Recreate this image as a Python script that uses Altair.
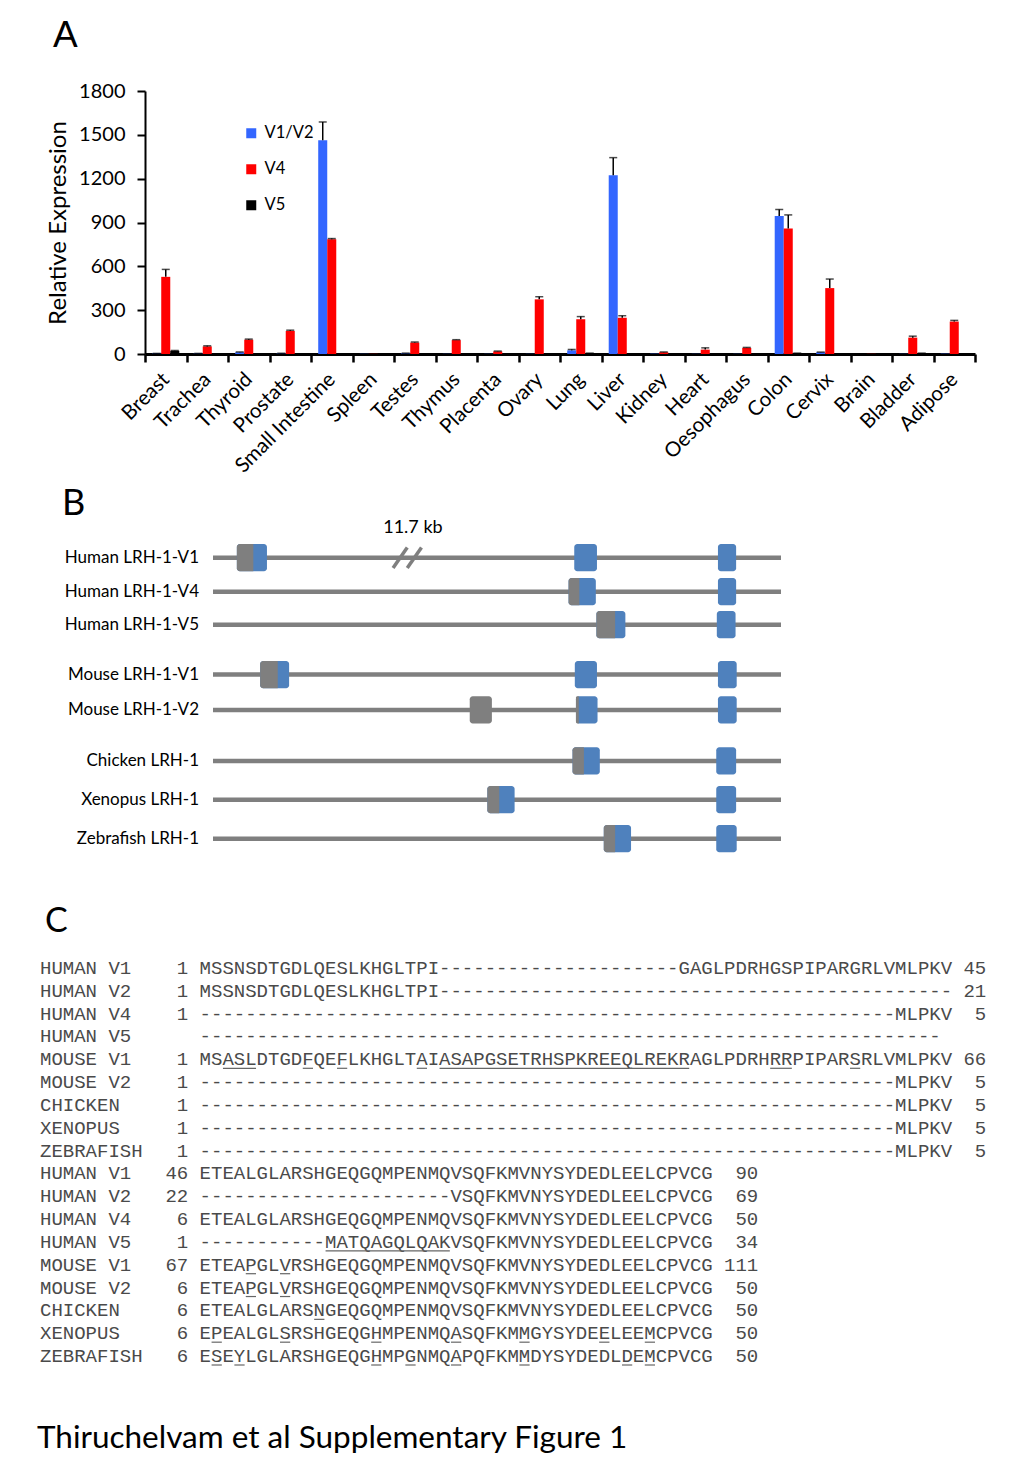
import altair as alt
import pandas as pd

# ---------------- Panel A : expression data ----------------
tissues = ["Breast", "Trachea", "Thyroid", "Prostate", "Small Intestine", "Spleen",
           "Testes", "Thymus", "Placenta", "Ovary", "Lung", "Liver", "Kidney", "Heart",
           "Oesophagus", "Colon", "Cervix", "Brain", "Bladder", "Adipose"]
series_names = ["V1/V2", "V4", "V5"]
series_colors = ["#3366FF", "#FF0000", "#000000"]

v1v2 = [3, 3, 12, 4, 1463, 1, 5, 1, 1, 1, 25, 1224, 2, 1, 1, 945, 12, 0, 1, 2]
v1v2_err = [4, 4, 14, 5, 1588, 1, 6, 1, 1, 1, 31, 1344, 2, 1, 1, 989, 13, 0, 1, 2]
v4 = [528, 52, 98, 158, 786, 1, 78, 95, 18, 374, 238, 248, 12, 30, 42, 859, 451, 1, 112, 222]
v4_err = [579, 56, 102, 163, 790, 1, 82, 98, 20, 392, 256, 262, 14, 42, 45, 952, 513, 1, 122, 230]
v5 = [22, 2, 3, 3, 1, 1, 2, 1, 1, 1, 5, 2, 1, 1, 1, 5, 1, 0, 5, 3]
v5_err = [24, 2, 3, 3, 1, 1, 2, 1, 1, 1, 6, 2, 1, 1, 1, 6, 1, 0, 6, 3]
y_ticks = [0, 300, 600, 900, 1200, 1500, 1800]

# ---------------- Panel B : gene structures ----------------
b_labels = ["Human LRH-1-V1", "Human LRH-1-V4", "Human LRH-1-V5", "Mouse LRH-1-V1",
            "Mouse LRH-1-V2", "Chicken LRH-1", "Xenopus LRH-1", "Zebrafish LRH-1"]
b_track = [0, 1, 1.97, 3.44, 4.48, 5.98, 7.12, 8.27]
# exon: transcript index, start, end of non-coding (grey) part, end
ex_row = [0, 0, 0, 1, 1, 2, 2, 3, 3, 3, 4, 4, 4, 5, 5, 6, 6, 7, 7]
ex_start = [4.2, 63.6, 88.9, 62.6, 88.9, 67.5, 88.7, 8.3, 63.7, 88.9, 45.2, 63.9, 88.9,
            63.3, 88.6, 48.3, 88.6, 68.8, 88.6]
ex_split = [7.1, 63.6, 88.9, 64.5, 88.9, 70.8, 88.7, 11.4, 63.7, 88.9, 49.1, 64.4, 88.9,
            65.3, 88.6, 50.4, 88.6, 70.8, 88.6]
ex_end = [9.5, 67.6, 92.1, 67.4, 92.1, 72.6, 92.0, 13.4, 67.6, 92.2, 49.1, 67.7, 92.2,
          68.1, 92.1, 53.1, 92.1, 73.6, 92.2]
break_x = [31.7, 34.2]       # "//" intron break on Human V1
kb_label = "11.7 kb"
kb_pos = [35.2, -0.87]

# ---------------- Panel C : alignment ----------------
c_names = ["HUMAN V1", "HUMAN V2", "HUMAN V4", "HUMAN V5", "MOUSE V1", "MOUSE V2",
           "CHICKEN", "XENOPUS", "ZEBRAFISH"]
c_start1 = ["1", "1", "1", "", "1", "1", "1", "1", "1"]
c_seq1 = [
    "MSSNSDTGDLQESLKHGLTPI" + "-" * 21 + "GAGLPDRHGSPIPARGRLVMLPKV",
    "MSSNSDTGDLQESLKHGLTPI" + "-" * 45,
    "-" * 61 + "MLPKV",
    "-" * 65,
    "MSASLDTGDFQEFLKHGLTAIASAPGSETRHSPKREEQLREKRAGLPDRHRRPIPARSRLVMLPKV",
    "-" * 61 + "MLPKV",
    "-" * 61 + "MLPKV",
    "-" * 61 + "MLPKV",
    "-" * 61 + "MLPKV",
]
c_end1 = ["45", "21", "5", "", "66", "5", "5", "5", "5"]
c_ul1 = [[], [], [], [], [(3, 5), (10, 10), (13, 13), (20, 20), (22, 43), (51, 52), (58, 58)],
         [], [], [], []]
c_start2 = ["46", "22", "6", "1", "67", "6", "6", "6", "6"]
c_seq2 = [
    "ETEALGLARSHGEQGQMPENMQVSQFKMVNYSYDEDLEELCPVCG",
    "-" * 22 + "VSQFKMVNYSYDEDLEELCPVCG",
    "ETEALGLARSHGEQGQMPENMQVSQFKMVNYSYDEDLEELCPVCG",
    "-" * 11 + "MATQAGQLQAKVSQFKMVNYSYDEDLEELCPVCG",
    "ETEAPGLVRSHGEQGQMPENMQVSQFKMVNYSYDEDLEELCPVCG",
    "ETEAPGLVRSHGEQGQMPENMQVSQFKMVNYSYDEDLEELCPVCG",
    "ETEALGLARSNGEQGQMPENMQVSQFKMVNYSYDEDLEELCPVCG",
    "EPEALGLSRSHGEQGHMPENMQASQFKMMGYSYDEELEEMCPVCG",
    "ESEYLGLARSHGEQGHMPGNMQAPQFKMMDYSYDEDLDEMCPVCG",
]
c_end2 = ["90", "69", "50", "34", "111", "50", "50", "50", "50"]
c_ul2 = [[], [], [], [(12, 22)], [(5, 5), (8, 8)], [(5, 5), (8, 8)], [(11, 11)],
         [(2, 2), (8, 8), (16, 16), (23, 23), (29, 29), (36, 36), (40, 40)],
         [(2, 2), (4, 4), (16, 16), (19, 19), (23, 23), (29, 29), (38, 38), (40, 40)]]

footer = "Thiruchelvam et al Supplementary Figure 1"

# ================= build =================
W, H = 1008, 1463
SANS = "Lato"
MONO = "Liberation Mono"

# ---- Panel A
rowsA = []
for i, t in enumerate(tissues):
    for s, vals, errs in ((series_names[0], v1v2, v1v2_err),
                          (series_names[1], v4, v4_err),
                          (series_names[2], v5, v5_err)):
        rowsA.append(dict(tissue=t, series=s, value=vals[i], err=errs[i]))
dfA = pd.DataFrame(rowsA)
dfErr = dfA[dfA["err"] > dfA["value"]]

xA = alt.X("tissue:N", sort=tissues, title=None,
           scale=alt.Scale(domain=tissues, range=[137, 967], paddingInner=0, paddingOuter=0),
           axis=alt.Axis(orient="bottom", offset=-(H - 346), tickBand="extent",
                         labelAngle=-45, labelAlign="right", labelBaseline="middle",
                         labelFont=SANS, labelFontSize=20.5, labelColor="black", labelPadding=14,
                         labelLimit=400, tickSize=8, tickWidth=2.5, tickColor="black",
                         domainColor="black", domainWidth=3, grid=False))
xoA = alt.XOffset("series:N", sort=series_names,
                  scale=alt.Scale(domain=series_names, paddingInner=0, paddingOuter=0.8))
yscaleA = alt.Scale(domain=[0, 1800], range=[346, 83], nice=False, zero=True)
yaxisA = alt.Axis(orient="left", offset=-137, values=y_ticks, format="d",
                  title="Relative Expression",
                  titleFont=SANS, titleFontSize=24, titleFontWeight="normal", titleColor="black",
                  titlePadding=8, labelFont=SANS, labelFontSize=20, labelColor="black",
                  labelPadding=12, tickSize=8, tickWidth=2, tickColor="black",
                  domainColor="black", domainWidth=2, grid=False)

bars = alt.Chart(dfA).mark_bar().encode(
    x=xA, xOffset=xoA,
    y=alt.Y("value:Q", scale=yscaleA, axis=yaxisA),
    color=alt.Color("series:N", sort=series_names,
                    scale=alt.Scale(domain=series_names, range=series_colors),
                    legend=alt.Legend(orient="none", legendX=235, legendY=117, title=None,
                                      symbolType="square", symbolSize=100, symbolStrokeWidth=0,
                                      labelFont=SANS, labelFontSize=16.5, labelColor="black",
                                      rowPadding=19, labelOffset=5, padding=0)),
)
err_rule = alt.Chart(dfErr).mark_rule(color="black", strokeWidth=1.5).encode(
    x=xA, xOffset=xoA,
    y=alt.Y("value:Q", scale=yscaleA, axis=yaxisA), y2="err:Q")
err_cap = alt.Chart(dfErr).mark_tick(color="black", thickness=1.5, size=8,
                                     orient="horizontal").encode(
    x=xA, xOffset=xoA, y=alt.Y("err:Q", scale=yscaleA, axis=yaxisA))
panelA = alt.layer(bars, err_rule, err_cap)

# ---- Panel B
GREY = "#7F7F7F"
BLUE = "#4F81BD"
HALF = 0.4
dfLines = pd.DataFrame({"label": b_labels, "track": b_track})
dfLines["x0"] = 0.0
dfLines["x1"] = 100.0
ex_rows = []
for r, s, sp, e in zip(ex_row, ex_start, ex_split, ex_end):
    tr = b_track[r]
    ex_rows.append(dict(track=tr, start=s, split=sp, end=e, y0=tr - HALF, y1=tr + HALF,
                        kind="coding" if sp < e else "noncoding"))
dfEx = pd.DataFrame(ex_rows)
dfGreyPart = dfEx[(dfEx["split"] > dfEx["start"]) & (dfEx["split"] < dfEx["end"])]

xsB = alt.Scale(domain=[0, 100], range=[205, 773])
ysB = alt.Scale(domain=[0, 8.27], range=[549.7, 830.7])

lines = alt.Chart(dfLines).mark_rule(color=GREY, strokeWidth=4.5).encode(
    x=alt.X("x0:Q", scale=xsB, axis=None), x2="x1:Q",
    y=alt.Y("track:Q", scale=ysB, axis=None))
labelsB = alt.Chart(dfLines).mark_text(align="right", baseline="middle", dx=-14, font=SANS,
                                       fontSize=17, color="black").encode(
    x=alt.X("x0:Q", scale=xsB, axis=None), y=alt.Y("track:Q", scale=ysB, axis=None),
    text="label:N")
exons = alt.Chart(dfEx).mark_rect(cornerRadius=3).encode(
    x=alt.X("start:Q", scale=xsB, axis=None), x2="end:Q",
    y=alt.Y("y0:Q", scale=ysB, axis=None), y2="y1:Q",
    color=alt.Color("kind:N", scale=alt.Scale(domain=["coding", "noncoding"],
                                              range=[BLUE, GREY]), legend=None))
greyPart = alt.Chart(dfGreyPart).mark_rect(cornerRadiusTopLeft=3, cornerRadiusBottomLeft=3,
                                           color=GREY).encode(
    x=alt.X("start:Q", scale=xsB, axis=None), x2="split:Q",
    y=alt.Y("y0:Q", scale=ysB, axis=None), y2="y1:Q")
dfBreak = pd.DataFrame({"xb": break_x, "xt": [b + 2.5 for b in break_x]})
dfBreak["yb"] = b_track[0] + 0.3
dfBreak["yt"] = b_track[0] - 0.3
slashes = alt.Chart(dfBreak).mark_rule(color=GREY, strokeWidth=3.5).encode(
    x=alt.X("xb:Q", scale=xsB, axis=None), x2="xt:Q",
    y=alt.Y("yb:Q", scale=ysB, axis=None), y2="yt:Q")
kb = alt.Chart(pd.DataFrame({"t": [kb_label], "x": [kb_pos[0]], "y": [kb_pos[1]]})).mark_text(
    font=SANS, fontSize=18, color="black", baseline="middle").encode(
    x=alt.X("x:Q", scale=xsB, axis=None), y=alt.Y("y:Q", scale=ysB, axis=None), text="t:N")
panelB = alt.layer(lines, exons, greyPart, slashes, labelsB, kb)

# ---- Panel C
SEQ_COL = 14
txt_left, txt_right, uls = [], [], []
blocks = [(c_start1, c_seq1, c_end1, c_ul1, 83), (c_start2, c_seq2, c_end2, c_ul2, 63)]
row = 0
for starts, seqs, ends, ulist, endcol in blocks:
    for i in range(len(c_names)):
        txt_left.append(dict(row=row, col=0, t=c_names[i]))
        txt_left.append(dict(row=row, col=SEQ_COL, t=seqs[i]))
        if starts[i]:
            txt_right.append(dict(row=row, col=13, t=starts[i]))
        if ends[i]:
            txt_right.append(dict(row=row, col=endcol, t=ends[i]))
        for a, b in ulist[i]:
            uls.append(dict(row=row, c0=SEQ_COL + a - 1 + 0.05, c1=SEQ_COL + b - 0.05))
        row += 1
CW = 11.4
xsC = alt.Scale(domain=[0, 83], range=[32, 32 + 83 * CW])
ysC = alt.Scale(domain=[0, 17], range=[960, 1348])
TXTC = "#4A4A4A"
cLeft = alt.Chart(pd.DataFrame(txt_left)).mark_text(align="left", baseline="middle", font=MONO,
                                                    fontSize=19, color=TXTC).encode(
    x=alt.X("col:Q", scale=xsC, axis=None), y=alt.Y("row:Q", scale=ysC, axis=None), text="t:N")
cRight = alt.Chart(pd.DataFrame(txt_right)).mark_text(align="right", baseline="middle",
                                                      font=MONO, fontSize=19, color=TXTC).encode(
    x=alt.X("col:Q", scale=xsC, axis=None), y=alt.Y("row:Q", scale=ysC, axis=None), text="t:N")
cUl = alt.Chart(pd.DataFrame(uls)).mark_rule(color="#666666", strokeWidth=1.2, yOffset=9).encode(
    x=alt.X("c0:Q", scale=xsC, axis=None), x2="c1:Q", y=alt.Y("row:Q", scale=ysC, axis=None))
panelC = alt.layer(cLeft, cRight, cUl)

# ---- panel letters and caption
def label(text, x, y, size, font):
    return alt.Chart(pd.DataFrame({"t": [text]})).mark_text(
        align="left", baseline="middle", font=font, fontSize=size, color="black").encode(
        x=alt.value(x), y=alt.value(y), text="t:N")

letters = [label("A", 45, 28, 37, "Liberation Sans"),
           label("B", 54, 496, 36, SANS),
           label("C", 37, 914, 34, SANS),
           label(footer, 29, 1431, 31.5, SANS)]

chart = alt.layer(panelA, panelB, panelC, *letters).resolve_scale(
    x="independent", y="independent", color="independent"
).properties(width=W, height=H, padding=0,
             autosize=alt.AutoSizeParams(type="none")).configure_view(strokeWidth=0)

chart.save("out.html", embed_options={"renderer": "svg", "actions": False})
